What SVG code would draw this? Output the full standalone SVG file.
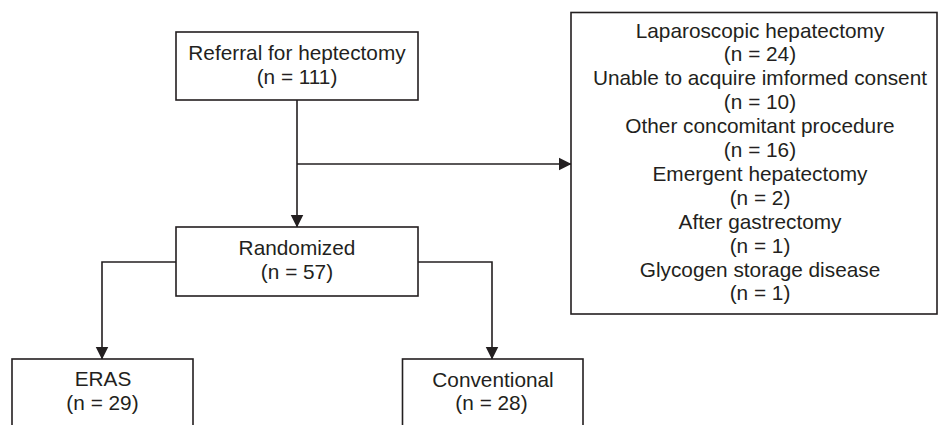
<svg xmlns="http://www.w3.org/2000/svg" width="939" height="425" viewBox="0 0 939 425">
<style>
.box{fill:#fff;stroke:#231f20;stroke-width:1.6}
.ln{fill:none;stroke:#231f20;stroke-width:1.6}
text{font-family:"Liberation Sans",Arial,sans-serif;font-size:20.8px;fill:#231f20;text-anchor:middle}
</style>
<defs>
<marker id="ah" markerUnits="userSpaceOnUse" markerWidth="13" markerHeight="14" viewBox="0 0 13 14" refX="12.5" refY="7" orient="auto">
<path d="M0,0.5 L13,7 L0,13.5 Z" fill="#231f20"/>
</marker>
</defs>
<g id="connectors">
<path class="ln" d="M297,100 V227" marker-end="url(#ah)"/>
<path class="ln" d="M297,164 H571" marker-end="url(#ah)"/>
<path class="ln" d="M176,262 H102 V359" marker-end="url(#ah)"/>
<path class="ln" d="M418,262 H492 V359" marker-end="url(#ah)"/>
</g>
<g id="referral">
<rect class="box" x="176" y="32" width="242" height="68"/>
<text x="297" y="60">Referral for heptectomy</text>
<text x="297" y="84">(n = 111)</text>
</g>
<g id="randomized">
<rect class="box" x="176" y="227" width="242" height="69"/>
<text x="297" y="255">Randomized</text>
<text x="297" y="279">(n = 57)</text>
</g>
<g id="excluded">
<rect class="box" x="571" y="12.5" width="366" height="301.5"/>
<text x="760" y="37.5">Laparoscopic hepatectomy</text>
<text x="760" y="61.4">(n = 24)</text>
<text x="760" y="85.3">Unable to acquire imformed consent</text>
<text x="760" y="109.2">(n = 10)</text>
<text x="760" y="133.1">Other concomitant procedure</text>
<text x="760" y="157">(n = 16)</text>
<text x="760" y="180.9">Emergent hepatectomy</text>
<text x="760" y="204.8">(n = 2)</text>
<text x="760" y="228.7">After gastrectomy</text>
<text x="760" y="252.6">(n = 1)</text>
<text x="760" y="276.5">Glycogen storage disease</text>
<text x="760" y="300.4">(n = 1)</text>
</g>
<g id="eras">
<rect class="box" x="12" y="359" width="181" height="100"/>
<text x="103" y="386">ERAS</text>
<text x="102.5" y="410">(n = 29)</text>
</g>
<g id="conventional">
<rect class="box" x="402.5" y="359" width="180.5" height="100"/>
<text x="493" y="386.5">Conventional</text>
<text x="491.5" y="410">(n = 28)</text>
</g>
</svg>
